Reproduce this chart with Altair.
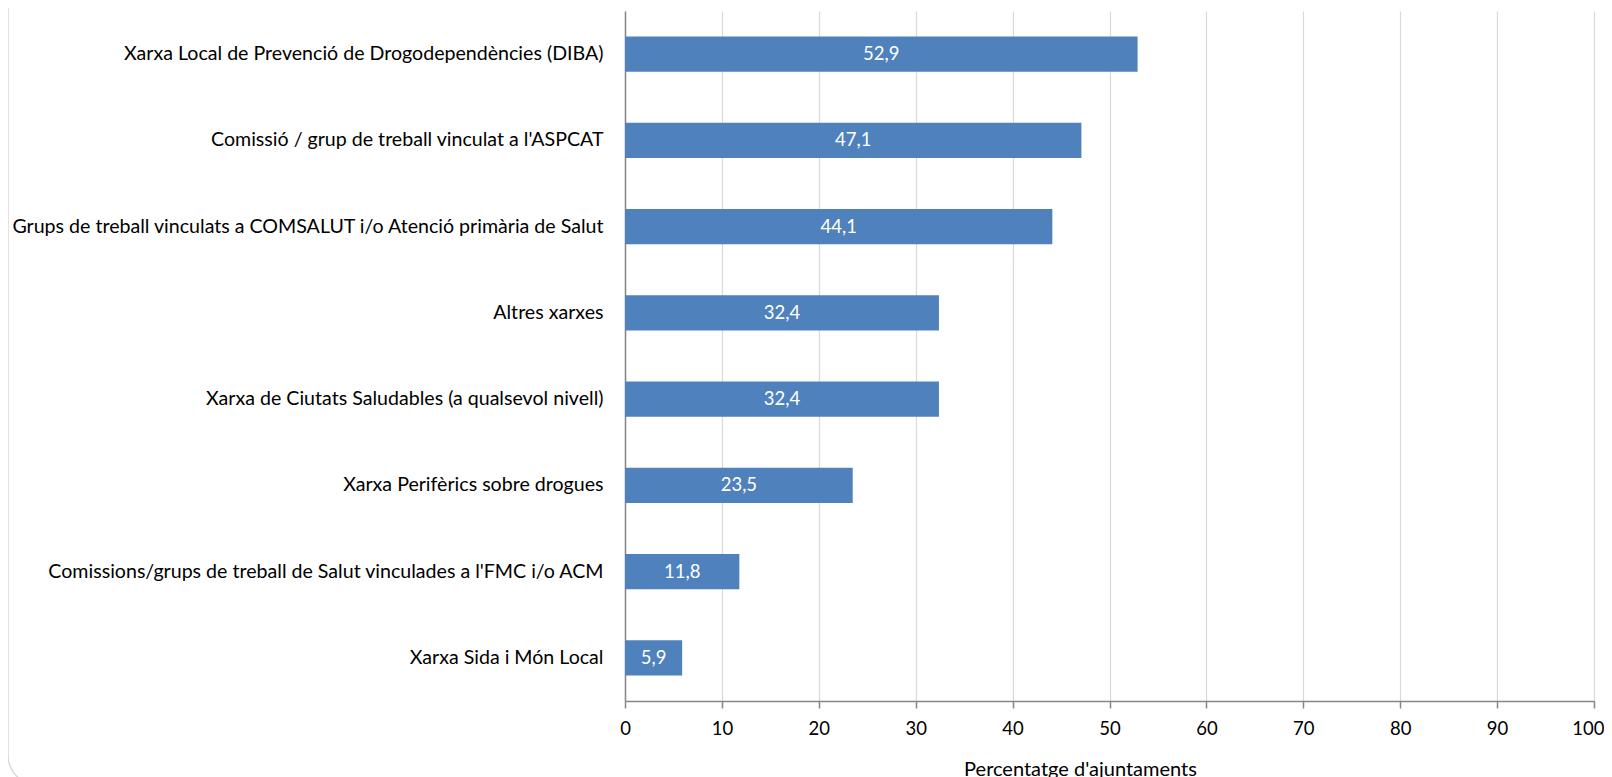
import altair as alt
import pandas as pd

categories = [
    "Xarxa Local de Prevenció de Drogodependències (DIBA)",
    "Comissió / grup de treball vinculat a l'ASPCAT",
    "Grups de treball vinculats a COMSALUT i/o Atenció primària de Salut",
    "Altres xarxes",
    "Xarxa de Ciutats Saludables (a qualsevol nivell)",
    "Xarxa Perifèrics sobre drogues",
    "Comissions/grups de treball de Salut vinculades a l'FMC i/o ACM",
    "Xarxa Sida i Món Local",
]
values = [52.9, 47.1, 44.1, 32.4, 32.4, 23.5, 11.8, 5.9]
x_ticks = [0, 10, 20, 30, 40, 50, 60, 70, 80, 90, 100]

df = pd.DataFrame({"cat": categories, "val": values})
df["lab"] = [f"{v:.1f}".replace(".", ",") for v in values]

FONT = "Lato"
W, H = 969, 690

y_enc = alt.Y(
    "cat:N",
    sort=categories,
    scale=alt.Scale(paddingInner=0.594, paddingOuter=0.297),
    axis=alt.Axis(
        title=None, ticks=False, tickSize=0, labelPadding=22, labelLimit=700,
        labelFont=FONT, labelFontSize=19.6, labelColor="#000000",
        domainColor="#868686", domainWidth=1.5,
    ),
)

bars = alt.Chart(df).mark_bar(color="#4F81BD").encode(
    x=alt.X(
        "val:Q",
        scale=alt.Scale(domain=[0, 100], nice=False),
        axis=alt.Axis(
            values=x_ticks, title="Percentatge d'ajuntaments", grid=True,
            gridColor="#d9d9d9", gridWidth=1.2, domainColor="#868686", domainWidth=1.5,
            tickColor="#868686", tickSize=7, tickWidth=1.5, labelPadding=11,
            labelFlush=False, labelOverlap=False,
            labelAlign={"condition": {"test": "datum.value == 100", "value": "right"}, "value": "center"},
            labelOffset={"condition": {"test": "datum.value == 100", "value": 10}, "value": 0},
            labelFont=FONT, labelFontSize=18.5, labelColor="#000000",
            titleFont=FONT, titleFontSize=20, titleFontWeight="normal", titleColor="#000000",
            titleX=455, titleY=74, titleBaseline="alphabetic",
        ),
    ),
    y=y_enc,
)

text = alt.Chart(df).mark_text(color="white", font=FONT, fontSize=18.5).encode(
    x=alt.X("mid:Q"),
    y=alt.Y("cat:N", sort=categories),
    text="lab:N",
).transform_calculate(mid="datum.val / 2")

frame = alt.Chart(pd.DataFrame({"k": [0]})).mark_rect(
    fill=None, stroke="#d9d9d9", strokeWidth=1.5, cornerRadius=30
).encode(
    x=alt.value(-617), x2=alt.value(1000), y=alt.value(-60), y2=alt.value(774)
)

chart = alt.layer(frame, bars, text).properties(
    width=W, height=H,
    autosize=alt.AutoSizeParams(type="none"),
    padding={"left": 617, "top": 3, "right": 10, "bottom": 80},
).configure_view(stroke=None)

chart.save("out.html", embed_options={"renderer": "svg", "actions": False})
